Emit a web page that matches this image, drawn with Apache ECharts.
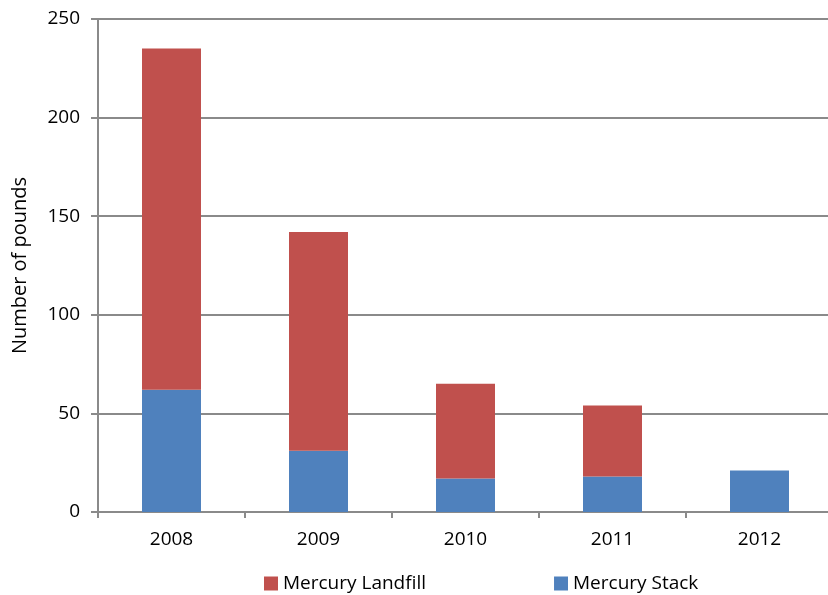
<!DOCTYPE html>
<html>
<head>
<meta charset="utf-8">
<script src="https://cdn.jsdelivr.net/npm/echarts@6/dist/echarts.min.js"></script>
<style>
  html, body { margin: 0; padding: 0; background: #fff; }
  #chart { width: 828px; height: 595px; }
</style>
</head>
<body>
<div id="chart"></div>
<script>
// data
var years = ['2008', '2009', '2010', '2011', '2012'];
var stack = [62, 31, 17, 18, 21];
var landfill = [173, 111, 48, 36, 0];
var yTicks = { min: 0, max: 250, interval: 50 };

var font = '"Open Sans", "Liberation Sans", sans-serif';
var axisGrey = '#8a8a8a';

var myChart = echarts.init(document.getElementById('chart'));
myChart.setOption({
  animation: false,
  textStyle: { fontFamily: font },
  // plot runs slightly past the right edge of the picture
  grid: { left: 98, width: 735, top: 19, bottom: 83, outerBoundsMode: 'none', containLabel: false },
  legend: {
    data: ['Mercury Landfill', 'Mercury Stack'],
    bottom: -3,
    left: 259,
    itemGap: 128,
    itemWidth: 14,
    itemHeight: 14,
    icon: 'rect',
    textStyle: { fontSize: 19, color: '#000', fontFamily: font }
  },
  xAxis: {
    type: 'category',
    data: years,
    axisLine: { lineStyle: { color: axisGrey, width: 2 } },
    axisTick: { show: true, length: 6, alignWithLabel: false, lineStyle: { color: axisGrey, width: 2 } },
    axisLabel: { color: '#000', fontSize: 19, margin: 18 }
  },
  yAxis: {
    type: 'value',
    min: yTicks.min,
    max: yTicks.max,
    interval: yTicks.interval,
    name: 'Number of pounds',
    nameLocation: 'middle',
    nameGap: 68,
    nameRotate: 90,
    nameTextStyle: { color: '#000', fontSize: 20 },
    axisLine: { show: true, lineStyle: { color: axisGrey, width: 2 } },
    axisTick: { show: true, length: 7, lineStyle: { color: axisGrey, width: 2 } },
    axisLabel: { color: '#000', fontSize: 19, margin: 18 },
    splitLine: { lineStyle: { color: axisGrey, width: 2 } }
  },
  series: [
    {
      name: 'Mercury Stack',
      type: 'bar',
      stack: 'total',
      data: stack,
      barWidth: 59,
      itemStyle: { color: '#4F81BD' }
    },
    {
      name: 'Mercury Landfill',
      type: 'bar',
      stack: 'total',
      data: landfill,
      barWidth: 59,
      itemStyle: { color: '#C0504D' }
    }
  ]
});
</script>
</body>
</html>
